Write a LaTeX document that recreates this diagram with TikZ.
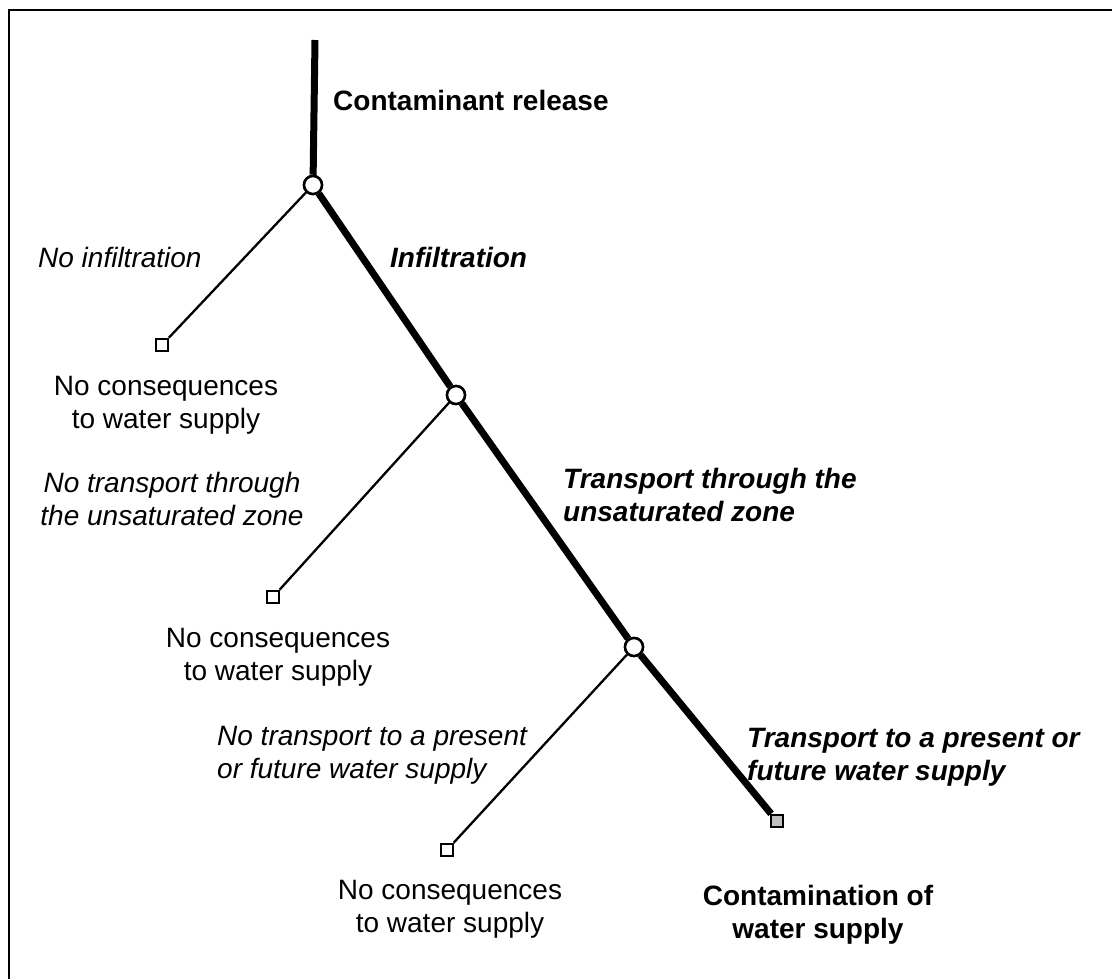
\documentclass[tikz,border=0pt]{standalone}
\usepackage{fontspec}
\setmainfont{Liberation Sans}
\begin{document}
\begin{tikzpicture}[x=1pt,y=-1pt,
  chance/.style={circle,draw=black,line width=2.5pt,fill=white,minimum size=18pt,inner sep=0pt},
  endbox/.style={rectangle,draw=black,line width=2pt,fill=white,minimum size=12.5pt,inner sep=0pt},
  endboxgray/.style={endbox,fill=black!25},
  mainpath/.style={line width=7pt},
  sidepath/.style={line width=2.3pt},
  lbl/.style={font=\fontsize{28pt}{33pt}\selectfont,inner sep=0pt,align=center},
  lbll/.style={lbl,align=left,anchor=west}]
\useasboundingbox (0,0) rectangle (1112,979);
\draw[line width=2.2pt] (9,979) -- (9,10) -- (1112,10);
% nodes
\coordinate (top) at (315,40);
\node[chance] (c1) at (313,185) {};
\node[chance] (c2) at (456,395) {};
\node[chance] (c3) at (634,647) {};
\node[endbox] (s1) at (162,345) {};
\node[endbox] (s2) at (273,597) {};
\node[endbox] (s3) at (447,850) {};
\node[endboxgray] (s4) at (777,821) {};
% paths
\draw[mainpath] (top) -- (c1);
\draw[mainpath] (c1) -- (c2);
\draw[mainpath] (c2) -- (c3);
\draw[mainpath] (c3) -- (s4);
\draw[sidepath] (c1) -- (s1);
\draw[sidepath] (c2) -- (s2);
\draw[sidepath] (c3) -- (s3);
% redraw nodes on top
\node[chance] at (c1) {};
\node[chance] at (c2) {};
\node[chance] at (c3) {};
\node[endbox] at (s1) {};
\node[endbox] at (s2) {};
\node[endbox] at (s3) {};
\node[endboxgray] at (s4) {};
% labels
\node[lbll,font=\fontsize{28pt}{33pt}\selectfont\bfseries] (t0) at (333,100) {Contaminant release};
\node[lbll,font=\fontsize{28pt}{33pt}\selectfont\itshape] (t1) at (38,257) {No infiltration};
\node[lbll,font=\fontsize{28pt}{33pt}\selectfont\bfseries\itshape] (t2) at (390,257) {Infiltration};
\node[lbl] (t3) at (166,405) {No consequences\\to water supply};
\node[lbl,font=\fontsize{28pt}{33pt}\selectfont\itshape] (t4) at (172,499) {No transport through\\the unsaturated zone};
\node[lbll,font=\fontsize{28pt}{33pt}\selectfont\bfseries\itshape] (t5) at (563,495) {Transport through the\\unsaturated zone};
\node[lbl] (t6) at (278,657) {No consequences\\to water supply};
\node[lbll,font=\fontsize{28pt}{33pt}\selectfont\itshape] (t7) at (217,755) {No transport to a present\\or future water supply};
\node[lbll,font=\fontsize{28pt}{33pt}\selectfont\bfseries\itshape] (t8) at (747,757) {Transport to a present or\\future water supply};
\node[lbl] (t9) at (450,909) {No consequences\\to water supply};
\node[lbl,font=\fontsize{28pt}{33pt}\selectfont\bfseries] (t10) at (818,915) {Contamination of\\water supply};
\end{tikzpicture}
\end{document}
